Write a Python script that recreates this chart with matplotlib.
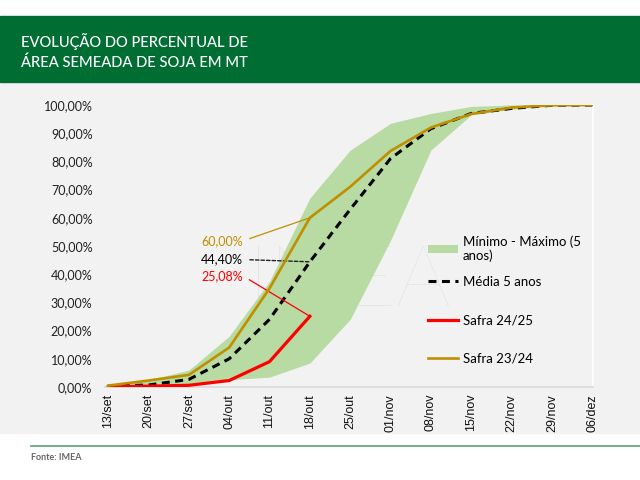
import matplotlib
matplotlib.use("Agg")
import matplotlib.pyplot as plt
from matplotlib.patches import Rectangle
from matplotlib.lines import Line2D

# dados (% da area semeada)
categorias = ['13/set', '20/set', '27/set', '04/out', '11/out', '18/out', '25/out',
              '01/nov', '08/nov', '15/nov', '22/nov', '29/nov', '06/dez']
safra_2324 = [0.5, 2.3, 4.3, 14.0, 35.0, 60.0, 71.0, 83.7, 92.0, 96.8, 99.1, 99.9, 100.0]
media_5anos = [0.3, 0.7, 2.7, 10.0, 24.0, 44.4, 63.0, 81.0, 91.6, 97.0, 98.8, 99.9, 100.0]
safra_2425 = [0.0, 0.3, 0.6, 2.3, 9.0, 25.08]
minimo = [0.0, 0.0, 0.3, 2.6, 3.5, 8.5, 24.0, 52.0, 84.0, 96.5, 98.5, 99.8, 100.0]
maximo = [0.8, 2.5, 6.0, 18.0, 37.5, 67.0, 84.0, 93.5, 97.0, 99.5, 100.0, 100.0, 100.0]
yticks = [0, 10, 20, 30, 40, 50, 60, 70, 80, 90, 100]

verde_banner = '#006e33'
verde_faixa = '#b7dba2'
dourado = '#bf8f00'
vermelho = '#ff0000'

plt.rcParams['font.family'] = ['Lato', 'DejaVu Sans']

fig = plt.figure(figsize=(6.4, 4.8), dpi=100)
fig.patch.set_facecolor('white')

W, H = 640, 480
def fy(px):
    return 1 - px / H

# faixas de fundo (atras dos eixos)
fig.add_artist(Rectangle((0, fy(433)), 1, (433 - 83) / H, transform=fig.transFigure,
                         color='#f2f2f2', zorder=-10))
fig.add_artist(Rectangle((0, fy(82)), 1, (82 - 16) / H, transform=fig.transFigure,
                         color=verde_banner, zorder=-10))
fig.add_artist(Line2D([31 / W, 1], [fy(446), fy(446)], transform=fig.transFigure,
                      color='#5c9e7a', lw=1.2))

fig.text(21 / W, fy(51.5), 'EVOLUÇÃO DO PERCENTUAL DE\nÁREA SEMEADA DE SOJA EM MT',
         color='white', fontsize=10.6, va='center', ha='left', linespacing=1.55,
         fontweight='medium')
fig.text(31 / W, fy(458), 'Fonte: IMEA', color='#666666', fontsize=6.5,
         fontweight='bold', va='center', ha='left')

ax = fig.add_axes([105 / W, fy(387), (593 - 105) / W, (387 - 105) / H])
ax.set_facecolor('none')
ax.set_zorder(5)

# marca d'agua
ax.text(0.5, 0.37, 'IMEA', transform=ax.transAxes, fontsize=62, color='#e4e7e6',
        ha='center', va='center', zorder=0, fontweight='light')

x = list(range(len(categorias)))
ax.fill_between(x, minimo, maximo, color=verde_faixa, lw=0, zorder=1,
                label='Mínimo - Máximo (5\nanos)')
ax.plot(x, media_5anos, color='black', lw=2.2, dashes=(2.6, 1.8), zorder=2,
        label='Média 5 anos')
ax.plot(x[:len(safra_2425)], safra_2425, color=vermelho, lw=2.3, zorder=3,
        label='Safra 24/25')
ax.plot(x, safra_2324, color=dourado, lw=1.9, zorder=4, label='Safra 23/24')

ax.set_xlim(-0.08, len(categorias) - 1 + 0.02)
ax.set_ylim(0, 100)
ax.set_yticks(yticks)
ax.set_yticklabels([f'{v:.2f}%'.replace('.', ',') for v in yticks])
ax.set_xticks(x)
ax.set_xticklabels(categorias, rotation=90, family=['Liberation Sans', 'DejaVu Sans'],
                   fontsize=9)
ax.tick_params(axis='y', length=0, pad=9, labelsize=9, labelcolor='#222222')
ax.tick_params(axis='x', length=0, pad=5, labelcolor='#111111')

for s in ['top', 'left']:
    ax.spines[s].set_visible(False)
ax.spines['bottom'].set_color('#d9d9d9')
ax.spines['bottom'].set_linewidth(1.2)
ax.spines['right'].set_color('white')
ax.spines['right'].set_linewidth(1.2)

# rotulos de dados
i = 5
ax.annotate('60,00%', xy=(i, safra_2324[i]), xytext=(3.34, 51.8), color=dourado,
            fontsize=9, ha='right', va='center',
            arrowprops=dict(arrowstyle='-', color=dourado, lw=0.9, shrinkA=3, shrinkB=0,
                            relpos=(1, 0.5)))
ax.annotate('44,40%', xy=(i, media_5anos[i]), xytext=(3.34, 45.2), color='black',
            fontsize=9, ha='right', va='center',
            arrowprops=dict(arrowstyle='-', color='#222222', lw=1.0, ls=(0, (2.5, 1.5)),
                            shrinkA=3, shrinkB=0, relpos=(1, 0.5)))
ax.annotate('25,08%', xy=(i, safra_2425[i]), xytext=(3.34, 39.4), color=vermelho,
            fontsize=9, ha='right', va='center',
            arrowprops=dict(arrowstyle='-', color=vermelho, lw=0.9, shrinkA=3, shrinkB=0,
                            relpos=(1, 0.5)))

handles, labels = ax.get_legend_handles_labels()
leg1 = ax.legend(handles[:1], labels[:1], loc='upper left',
                 bbox_to_anchor=(428 / W, fy(235)), bbox_transform=fig.transFigure,
                 frameon=False, fontsize=9.5, borderpad=0, borderaxespad=0,
                 handlelength=2.3, handleheight=0.5, handletextpad=0.35)
ax.add_artist(leg1)
ax.legend(handles[1:], labels[1:], loc='upper left',
          bbox_to_anchor=(428 / W, fy(276)), bbox_transform=fig.transFigure,
          frameon=False, fontsize=9.5, borderpad=0, borderaxespad=0,
          handlelength=2.3, handletextpad=0.35, labelspacing=1.98)

fig.savefig('out.png', dpi=100)
